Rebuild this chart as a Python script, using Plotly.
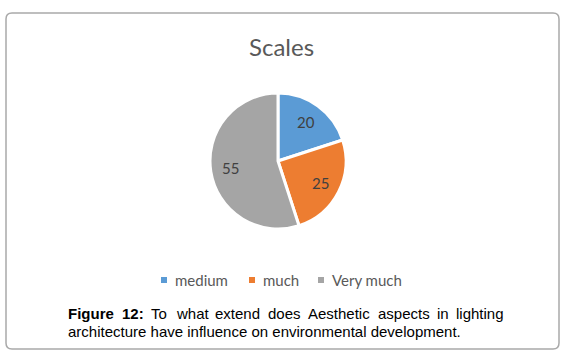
import math
import plotly.graph_objects as go

# ---- data ----
categories = ["medium", "much", "Very much"]
values = [20, 25, 55]
colors = ["#5B9BD5", "#ED7D31", "#A5A5A5"]
chart_title = "Scales"
caption_line1 = ["Figure", "12:", "To", "what", "extend", "does", "Aesthetic", "aspects", "in", "lighting"]
caption_line2 = "architecture have influence on environmental development."

W, H = 570, 361

def px(x):
    return x / W

def py(y):
    return 1 - y / H

fig = go.Figure()

# pie geometry (pixels)
cx, cy, r = 278, 161, 68
fig.add_trace(go.Pie(
    labels=categories, values=values,
    marker=dict(colors=colors, line=dict(color="white", width=3)),
    sort=False, direction="clockwise", rotation=0,
    textinfo="none",
    domain=dict(x=[px(cx - r), px(cx + r)], y=[py(cy + r), py(cy - r)]),
    showlegend=False, hoverinfo="label+value",
))

shapes = []
annotations = []

# data labels placed along each slice's mid-angle (computed from the values)
total = sum(values)
cum = 0
for v in values:
    mid = (cum + v / 2) / total * 2 * math.pi
    cum += v
    lx = cx + 0.7 * r * math.sin(mid)
    ly = cy - 0.7 * r * math.cos(mid)
    annotations.append(dict(text=str(v), x=px(lx), y=py(ly), xref="paper", yref="paper",
                            showarrow=False, xanchor="center", yanchor="middle",
                            font=dict(family="Lato", size=15, color="#404040")))

# outer rounded frame
x0, y0, x1, y1, rr = 6, 13, 559, 349, 6
def P(x, y):
    return f"{px(x):.5f},{py(y):.5f}"
path = (f"M {P(x0+rr, y0)} L {P(x1-rr, y0)} Q {P(x1, y0)} {P(x1, y0+rr)} "
        f"L {P(x1, y1-rr)} Q {P(x1, y1)} {P(x1-rr, y1)} "
        f"L {P(x0+rr, y1)} Q {P(x0, y1)} {P(x0, y1-rr)} "
        f"L {P(x0, y0+rr)} Q {P(x0, y0)} {P(x0+rr, y0)} Z")
shapes.append(dict(type="path", path=path, xref="paper", yref="paper",
                   line=dict(color="#A9A9A9", width=1.5)))

# title
annotations.append(dict(text=chart_title, x=px(281), y=py(46), xref="paper", yref="paper",
                        showarrow=False, xanchor="center", yanchor="middle",
                        font=dict(family="Lato", size=24, color="#595959")))

# legend (manual, small square markers)
leg_marker_x = [161, 249, 318]
leg_text_x = [173, 261, 330]
leg_y = 280
for name, col, mx, tx in zip(categories, colors, leg_marker_x, leg_text_x):
    shapes.append(dict(type="rect", xref="paper", yref="paper",
                       x0=px(mx), x1=px(mx + 6), y0=py(leg_y + 3), y1=py(leg_y - 3),
                       fillcolor=col, line=dict(width=0)))
    annotations.append(dict(text=name, x=px(tx), y=py(leg_y), xref="paper", yref="paper",
                            showarrow=False, xanchor="left", yanchor="middle",
                            font=dict(family="Lato", size=15, color="#595959")))

# caption: first line justified between left and right margins (Arial metrics)
REG = {'a': 556, 'c': 500, 'd': 556, 'e': 556, 'g': 556, 'h': 556, 'i': 222, 'l': 222,
       'n': 556, 'o': 556, 'p': 556, 's': 500, 't': 278, 'w': 722, 'x': 500, 'T': 611,
       'A': 667, 'u': 556, 'r': 333}
BOLD = {'F': 611, 'i': 278, 'g': 611, 'u': 611, 'r': 389, 'e': 556, '1': 556, '2': 556, ':': 333}
FS = 15
cap_left, cap_right = 66, 502
widths = []
for i, wrd in enumerate(caption_line1):
    table = BOLD if i < 2 else REG
    widths.append(sum(table.get(ch, 556) for ch in wrd) / 1000 * FS)
gap = (cap_right - cap_left - sum(widths)) / (len(caption_line1) - 1)
xpos = cap_left
for i, (wrd, ww) in enumerate(zip(caption_line1, widths)):
    txt = f"<b>{wrd}</b>" if i < 2 else wrd
    annotations.append(dict(text=txt, x=px(xpos), y=py(313), xref="paper", yref="paper",
                            showarrow=False, xanchor="left", yanchor="middle",
                            font=dict(family="Liberation Sans", size=FS, color="#000000")))
    xpos += ww + gap
annotations.append(dict(text=caption_line2, x=px(cap_left), y=py(331), xref="paper", yref="paper",
                        showarrow=False, xanchor="left", yanchor="middle",
                        font=dict(family="Liberation Sans", size=FS, color="#000000")))

fig.update_layout(width=W, height=H, margin=dict(l=0, r=0, t=0, b=0),
                  paper_bgcolor="white", plot_bgcolor="white",
                  shapes=shapes, annotations=annotations, showlegend=False)

fig.write_html("out.html", config={"displayModeBar": False},
               post_script="document.body.style.margin='0';")
